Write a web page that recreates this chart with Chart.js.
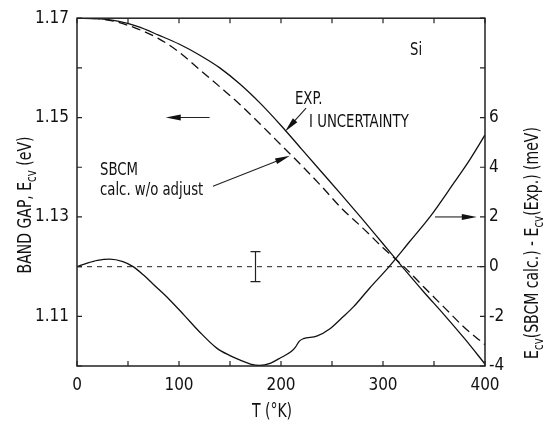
<!DOCTYPE html>
<html>
<head>
<meta charset="utf-8">
<script src="https://cdn.jsdelivr.net/npm/chart.js@4.4.1/dist/chart.umd.min.js"></script>
<style>
  html, body { margin: 0; padding: 0; background: #fff; }
  #wrap { width: 547px; height: 427px; }
</style>
</head>
<body>
<div id="wrap"><canvas id="myChart" width="547" height="427"></canvas></div>
<script>
const ctx = document.getElementById('myChart');
const FONT = "'DejaVu Sans Condensed', 'Liberation Sans', sans-serif";
const SQUEEZE = 0.82; // hand lettering in the original is narrow

/* DATA */
// band gap vs temperature (left axis, eV)
const tempK = [0, 20, 40, 60, 80, 100, 120, 140, 160, 180, 200, 220, 240, 260, 280, 300, 320, 340, 360, 380, 400];
const gapExp = [1.1700, 1.1699, 1.1694, 1.1683, 1.1666, 1.1648, 1.1626, 1.1600, 1.1567, 1.1528, 1.1484, 1.1437,
                1.1390, 1.1343, 1.1295, 1.1246, 1.1197, 1.1149, 1.1103, 1.1055, 1.1004];
const gapSbcm = [1.1700, 1.1699, 1.1692, 1.1678, 1.1659, 1.1632, 1.1597, 1.1562, 1.1526, 1.1486, 1.1445, 1.1404,
                 1.1361, 1.1316, 1.1278, 1.1238, 1.1201, 1.1159, 1.1118, 1.1077, 1.1043];

// difference curve (right axis, meV)
const diffT = [0, 10, 20, 32, 45, 55, 65, 75, 90, 105, 120, 137, 150, 160, 170, 179, 190, 200, 210, 214, 218, 222,
               235, 248, 260, 271, 287, 306, 326, 346, 370, 385, 400];
const diffMeV = [0, 0.14, 0.25, 0.3, 0.2, 0, -0.33, -0.72, -1.3, -1.95, -2.62, -3.28, -3.58, -3.76, -3.92, -3.98,
                 -3.88, -3.66, -3.42, -3.25, -3.0, -2.9, -2.8, -2.5, -2.05, -1.62, -0.86, 0, 1.0, 2.0, 3.4, 4.3, 5.3];

// zero reference line and experimental uncertainty bar (right axis)
const zeroT = [0, 400];
const zeroMeV = [0, 0];
const errT = 175;
const errMeV = [-0.6, 0.6];

// tick labels
const xLabels = [0, 100, 200, 300, 400];
const leftLabels = ['1.17', '1.15', '1.13', '1.11'];
const rightLabels = [-4, -2, 0, 2, 4, 6];

// annotations: text and arrows in data coordinates
const notes = [
  { text: 'Si', t: 326.5, v: 1.1635, axis: 'y' },
  { text: 'EXP.', t: 213.7, v: 1.1537, axis: 'y' },
  { text: 'I UNCERTAINTY', t: 227.5, v: 1.1490, axis: 'y' },
  { text: 'SBCM', t: 22.5, v: 1.1393, axis: 'y' },
  { text: 'calc. w/o adjust', t: 22.5, v: 1.1354, axis: 'y' }
];
const arrows = [
  { from: [130, 1.15], to: [87, 1.15], axis: 'y' },
  { from: [351, 2], to: [392, 2], axis: 'y2' },
  { from: [224.6, 1.1519], to: [204, 1.1472], axis: 'y' },
  { from: [133.3, 1.1362], to: [208.8, 1.1423], axis: 'y' }
];

const pts = (xs, ys) => xs.map((x, i) => ({ x: x, y: ys[i] }));

function drawArrow(c, x1, y1, x2, y2) {
  const ang = Math.atan2(y2 - y1, x2 - x1);
  const len = 15, hw = 3;
  c.beginPath();
  c.moveTo(x1, y1);
  c.lineTo(x2 - Math.cos(ang) * len * 0.7, y2 - Math.sin(ang) * len * 0.7);
  c.stroke();
  c.beginPath();
  c.moveTo(x2, y2);
  c.lineTo(x2 - Math.cos(ang) * len - Math.sin(ang) * hw, y2 - Math.sin(ang) * len + Math.cos(ang) * hw);
  c.lineTo(x2 - Math.cos(ang) * len + Math.sin(ang) * hw, y2 - Math.sin(ang) * len - Math.cos(ang) * hw);
  c.closePath();
  c.fill();
}

// draw text pieces with subscripts, centred on 0 along the baseline
function drawPieces(c, pieces) {
  c.scale(SQUEEZE, 1);
  let w = 0;
  pieces.forEach(p => { c.font = p.sub ? '14px ' + FONT : '19px ' + FONT; w += c.measureText(p.s).width; });
  let x = -w / 2;
  pieces.forEach(p => {
    c.font = p.sub ? '14px ' + FONT : '19px ' + FONT;
    c.fillText(p.s, x, p.sub ? 5 : 0);
    x += c.measureText(p.s).width;
  });
}

const overlay = {
  id: 'overlay',
  afterDatasetsDraw(chart) {
    const c = chart.ctx, a = chart.chartArea;
    const sx = chart.scales.x, sy = chart.scales.y, sy2 = chart.scales.y2;
    c.save();
    c.strokeStyle = '#222';
    c.fillStyle = '#111';

    // frame
    c.lineWidth = 1.5;
    c.strokeRect(a.left, a.top, a.right - a.left, a.bottom - a.top);

    // inward tick marks
    c.lineWidth = 1.2;
    c.beginPath();
    sx.ticks.forEach(t => {
      const p = sx.getPixelForValue(t.value);
      c.moveTo(p, a.bottom); c.lineTo(p, a.bottom - 5);
      c.moveTo(p, a.top); c.lineTo(p, a.top + 5);
    });
    sy.ticks.forEach(t => {
      const p = sy.getPixelForValue(t.value);
      c.moveTo(a.left, p); c.lineTo(a.left + 5, p);
    });
    sy2.ticks.forEach(t => {
      const p = sy2.getPixelForValue(t.value);
      c.moveTo(a.right, p); c.lineTo(a.right - 5, p);
    });
    c.stroke();

    // uncertainty bar
    const ex = sx.getPixelForValue(errT);
    const e1 = sy2.getPixelForValue(errMeV[0]), e2 = sy2.getPixelForValue(errMeV[1]);
    c.lineWidth = 1.2;
    c.beginPath();
    c.moveTo(ex, e1); c.lineTo(ex, e2);
    c.moveTo(ex - 5, e1); c.lineTo(ex + 5, e1);
    c.moveTo(ex - 5, e2); c.lineTo(ex + 5, e2);
    c.stroke();

    // arrows
    c.lineWidth = 1.1;
    arrows.forEach(ar => {
      const s = chart.scales[ar.axis];
      drawArrow(c, sx.getPixelForValue(ar.from[0]), s.getPixelForValue(ar.from[1]),
                sx.getPixelForValue(ar.to[0]), s.getPixelForValue(ar.to[1]));
    });

    // notes
    c.font = '18px ' + FONT;
    c.textAlign = 'left';
    c.textBaseline = 'middle';
    notes.forEach(n => {
      c.save();
      c.translate(sx.getPixelForValue(n.t), chart.scales[n.axis].getPixelForValue(n.v));
      c.scale(SQUEEZE, 1);
      c.fillText(n.text, 0, 0);
      c.restore();
    });

    // axis titles
    c.textBaseline = 'alphabetic';
    c.textAlign = 'left';
    c.save();
    c.translate(31, 205);
    c.rotate(-Math.PI / 2);
    drawPieces(c, [{ s: 'BAND GAP, E' }, { s: 'cv', sub: true }, { s: ' (eV)' }]);
    c.restore();

    c.save();
    c.translate(538, 243);
    c.rotate(-Math.PI / 2);
    drawPieces(c, [{ s: 'E' }, { s: 'cv', sub: true }, { s: '(SBCM calc.) - E' }, { s: 'cv', sub: true },
                   { s: '(Exp.) (meV)' }]);
    c.restore();

    c.save();
    c.translate(272, 417);
    drawPieces(c, [{ s: 'T (°K)' }]);
    c.restore();

    c.restore();
  }
};

const tickFont = { family: FONT, size: 17 };

const myChart = new Chart(ctx, {
  type: 'line',
  data: {
    datasets: [
      {
        label: 'Exp.',
        data: pts(tempK, gapExp),
        yAxisID: 'y',
        borderColor: '#111',
        borderWidth: 1.3,
        pointRadius: 0,
        cubicInterpolationMode: 'monotone'
      },
      {
        label: 'SBCM calc. w/o adjust',
        data: pts(tempK, gapSbcm),
        yAxisID: 'y',
        borderColor: '#111',
        borderWidth: 1.3,
        borderDash: [9, 5],
        pointRadius: 0,
        cubicInterpolationMode: 'monotone'
      },
      {
        label: 'SBCM calc. - Exp.',
        data: pts(diffT, diffMeV),
        yAxisID: 'y2',
        borderColor: '#111',
        borderWidth: 1.3,
        pointRadius: 0,
        cubicInterpolationMode: 'monotone'
      },
      {
        label: 'zero',
        data: pts(zeroT, zeroMeV),
        yAxisID: 'y2',
        borderColor: '#444',
        borderWidth: 1.2,
        borderDash: [5, 5],
        pointRadius: 0
      }
    ]
  },
  options: {
    responsive: false,
    animation: false,
    layout: { padding: { top: 11, left: 0, right: 0, bottom: 0 } },
    plugins: { legend: { display: false }, tooltip: { enabled: false } },
    scales: {
      x: {
        type: 'linear',
        min: 0,
        max: 400,
        grid: { display: false, drawTicks: false },
        border: { display: false },
        ticks: {
          stepSize: 50,
          padding: 9,
          color: '#111',
          font: tickFont,
          maxRotation: 0,
          autoSkip: false,
          callback: v => xLabels.includes(v) ? String(v) : ''
        },
        afterFit: s => { s.height = 61; }
      },
      y: {
        position: 'left',
        min: 1.10,
        max: 1.17,
        grid: { display: false, drawTicks: false },
        border: { display: false },
        ticks: {
          stepSize: 0.01,
          padding: 8,
          color: '#111',
          font: tickFont,
          autoSkip: false,
          callback: v => leftLabels.includes(v.toFixed(2)) ? v.toFixed(2) : ''
        },
        afterFit: s => { s.width = 77; }
      },
      y2: {
        position: 'right',
        min: -4,
        max: 10,
        grid: { display: false, drawTicks: false },
        border: { display: false },
        ticks: {
          stepSize: 2,
          padding: 4,
          color: '#111',
          font: tickFont,
          autoSkip: false,
          callback: v => rightLabels.includes(v) ? String(v) : ''
        },
        afterFit: s => { s.width = 62; }
      }
    }
  },
  plugins: [overlay]
});
</script>
</body>
</html>
